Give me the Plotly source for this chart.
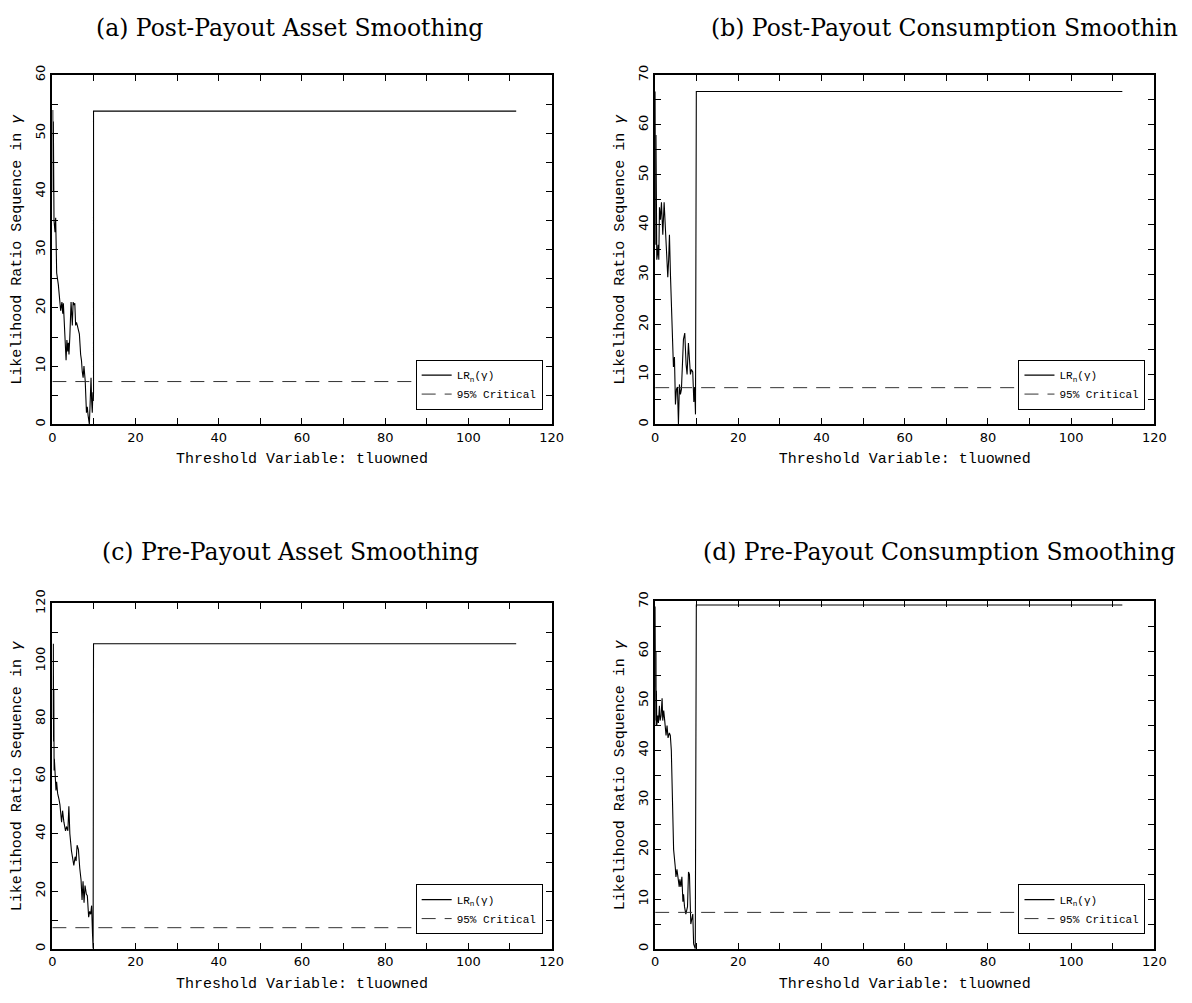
import plotly.graph_objects as go

W, H = 1192, 1003

# ---------------- data ----------------
crit = 7.35

# (a) Post-Payout Asset Smoothing
a_x = [0.10, 0.18, 0.24, 0.40, 0.64, 0.80, 1.04, 1.44, 1.70, 2.00, 2.30, 2.50, 2.65, 2.80, 3.05, 3.30,
       3.50, 3.70, 3.85, 4.00, 4.20, 4.50, 4.80, 5.00, 5.20, 5.40, 5.60, 5.80, 6.00, 6.30, 6.50, 6.80,
       7.00, 7.20, 7.40, 7.60, 7.90, 8.20, 8.40, 8.60, 8.90, 9.10, 9.30, 9.45, 9.60, 9.75, 9.85, 9.90,
       9.90, 111.5]
a_y = [54.0, 40.0, 52.0, 35.0, 33.0, 35.5, 26.0, 24.0, 22.0, 19.5, 21.0, 19.0, 20.8, 18.0, 14.0, 11.0,
       14.5, 12.5, 14.0, 12.0, 15.0, 21.0, 17.0, 21.0, 20.5, 20.8, 17.0, 17.5, 17.0, 16.0, 15.5, 12.0,
       11.0, 9.0, 8.0, 10.0, 7.5, 2.0, 3.0, 1.5, 0.0, 4.0, 8.0, 4.0, 2.0, 5.5, 4.0, 5.5,
       53.8, 53.8]

# (b) Post-Payout Consumption Smoothing
b_x = [0.00, 0.05, 0.10, 0.15, 0.20, 0.25, 0.30, 0.40, 0.55, 0.72, 0.88, 1.04, 1.28, 1.52, 1.84, 2.16,
       2.48, 2.80, 3.04, 3.25, 3.44, 3.68, 4.08, 4.40, 4.64, 4.88, 5.12, 5.36, 5.60, 5.84, 6.08, 6.32,
       6.80, 7.12, 7.44, 7.68, 8.00, 8.24, 8.48, 8.72, 9.04, 9.30, 9.50, 9.70, 9.90, 112.3]
b_y = [66.7, 40.0, 63.0, 36.0, 58.0, 34.0, 46.0, 33.0, 34.0, 36.0, 33.0, 43.5, 41.0, 44.5, 38.0, 44.5,
       39.0, 32.0, 29.5, 33.0, 38.0, 30.0, 17.0, 11.5, 13.5, 4.0, 7.0, 7.5, 0.0, 8.0, 6.0, 7.0,
       17.0, 18.3, 12.0, 10.0, 16.3, 12.0, 10.0, 11.0, 10.5, 4.5, 7.5, 2.0, 66.7, 66.7]

# (c) Pre-Payout Asset Smoothing
c_x = [0.20, 0.24, 0.30, 0.35, 0.42, 0.48, 0.63, 0.87, 1.03, 1.27, 1.59, 1.83, 2.22, 2.46, 2.78, 3.17,
       3.41, 3.73, 3.97, 4.21, 4.60, 4.84, 5.16, 5.48, 5.71, 5.95, 6.27, 6.59, 6.90, 7.14, 7.38, 7.62,
       7.86, 8.17, 8.41, 8.73, 8.97, 9.21, 9.44, 9.66, 9.80, 9.90, 111.5]
c_y = [80.0, 106.0, 72.0, 90.0, 62.0, 66.0, 62.0, 55.0, 58.0, 54.0, 52.0, 50.0, 44.0, 48.0, 44.0, 41.0,
       42.5, 41.0, 49.5, 40.0, 34.0, 32.0, 29.0, 32.0, 30.5, 36.0, 34.5, 28.0, 24.0, 17.0, 23.5, 16.0,
       22.0, 19.0, 18.5, 11.0, 13.0, 12.0, 15.0, 5.0, 0.0, 106.0, 106.0]

# (d) Pre-Payout Consumption Smoothing
d_x = [0.00, 0.05, 0.10, 0.15, 0.20, 0.24, 0.30, 0.40, 0.63, 0.79, 1.03, 1.19, 1.43, 1.67, 1.83, 2.06,
       2.30, 2.62, 2.86, 3.10, 3.41, 3.65, 3.89, 4.21, 4.44, 4.84, 5.00, 5.24, 5.48, 5.79, 5.95, 6.19,
       6.43, 6.67, 6.83, 7.06, 7.38, 7.78, 8.02, 8.25, 8.57, 8.81, 9.05, 9.25, 9.45, 9.65, 9.90, 112.3]
d_y = [69.0, 47.0, 68.0, 46.0, 60.0, 45.0, 52.0, 45.0, 47.0, 45.5, 49.0, 46.0, 47.0, 50.5, 46.0, 48.0,
       46.0, 43.0, 45.0, 42.5, 43.5, 43.0, 40.0, 30.0, 20.0, 16.5, 14.5, 16.0, 14.0, 12.5, 14.0, 12.5,
       14.5, 9.5, 11.0, 8.5, 7.0, 8.5, 15.5, 15.0, 5.0, 6.0, 7.0, 1.0, 0.5, 0.0, 69.3, 69.3]

panels = [
    dict(x=a_x, y=a_y, ymax=60, dt=10, mdt=5, title="(a) Post-Payout Asset Smoothing"),
    dict(x=b_x, y=b_y, ymax=70, dt=10, mdt=5, title="(b) Post-Payout Consumption Smoothin"),
    dict(x=c_x, y=c_y, ymax=120, dt=20, mdt=10, title="(c) Pre-Payout Asset Smoothing"),
    dict(x=d_x, y=d_y, ymax=70, dt=10, mdt=5, title="(d) Pre-Payout Consumption Smoothing"),
]

# ---------------- layout geometry (pixels) ----------------
boxes = [  # (left, right, top, bottom)
    (49, 555, 62, 417),
    (660, 1166, 62, 417),
    (49, 555, 599, 950),
    (660, 1166, 597, 950),
]
title_pos = [(289, 14), (953, 14), (290, 547), (948, 547)]

MONO = "Liberation Mono"
TICKF = "DejaVu Sans"

fig = go.Figure()
layout = dict(
    width=W, height=H, margin=dict(l=0, r=0, t=0, b=0),
    paper_bgcolor="white", plot_bgcolor="white", showlegend=True,
    annotations=[],
)

for i, (p, (l, r, t, b)) in enumerate(zip(panels, boxes)):
    k = "" if i == 0 else str(i + 1)
    xa, ya = "x" + k, "y" + k
    lg = "legend" + k
    xend = p["x"][-1]
    fig.add_trace(go.Scatter(x=p["x"], y=p["y"], mode="lines", xaxis=xa, yaxis=ya,
                             line=dict(color="black", width=1.1), name="LR<sub>n</sub>(γ)",
                             legend=lg))
    fig.add_trace(go.Scatter(x=[0, xend], y=[crit, crit], mode="lines", xaxis=xa, yaxis=ya,
                             line=dict(color="#333333", width=1, dash="14px,9px"),
                             name="95% Critical", legend=lg))
    common = dict(showline=True, linecolor="black", linewidth=2, mirror="allticks",
                  ticks="inside", ticklen=6, tickwidth=1, tickcolor="black",
                  showgrid=False, zeroline=False,
                  tickfont=dict(family=TICKF, size=13, color="black"))
    layout["xaxis" + k] = dict(
        domain=[l / W, r / W], anchor=ya, range=[0, 120], dtick=20, tick0=0,
        minor=dict(dtick=10, ticks="inside", ticklen=6, tickcolor="black", showgrid=False),
        title=dict(text="Threshold Variable: tluowned", font=dict(family=MONO, size=15, color="black"),
                   standoff=9),
        **common)
    layout["yaxis" + k] = dict(
        domain=[1 - b / H, 1 - t / H], anchor=xa, range=[0, p["ymax"]], dtick=p["dt"], tick0=0,
        tickangle=-90,
        minor=dict(dtick=p["mdt"], ticks="inside", ticklen=6, tickcolor="black", showgrid=False),
        title=dict(text="Likelihood Ratio Sequence in <i>γ</i>",
                   font=dict(family=MONO, size=15, color="black"), standoff=8),
        **common)
    layout[lg] = dict(
        x=(r - 9) / W, y=1 - (b - 15) / H, xanchor="right", yanchor="bottom",
        bgcolor="white", bordercolor="black", borderwidth=1,
        font=dict(family=MONO, size=11, color="black"),
        tracegroupgap=0, itemwidth=30,
    )
    tx, ty = title_pos[i]
    layout["annotations"].append(dict(
        text=p["title"], x=tx / W, y=1 - ty / H, xref="paper", yref="paper",
        xanchor="center", yanchor="middle", showarrow=False,
        font=dict(family="DejaVu Serif", size=23.5, color="black")))

fig.update_layout(**layout)
fig.write_html("out.html", config={"displayModeBar": False},
               post_script="document.body.style.margin='0px';")
